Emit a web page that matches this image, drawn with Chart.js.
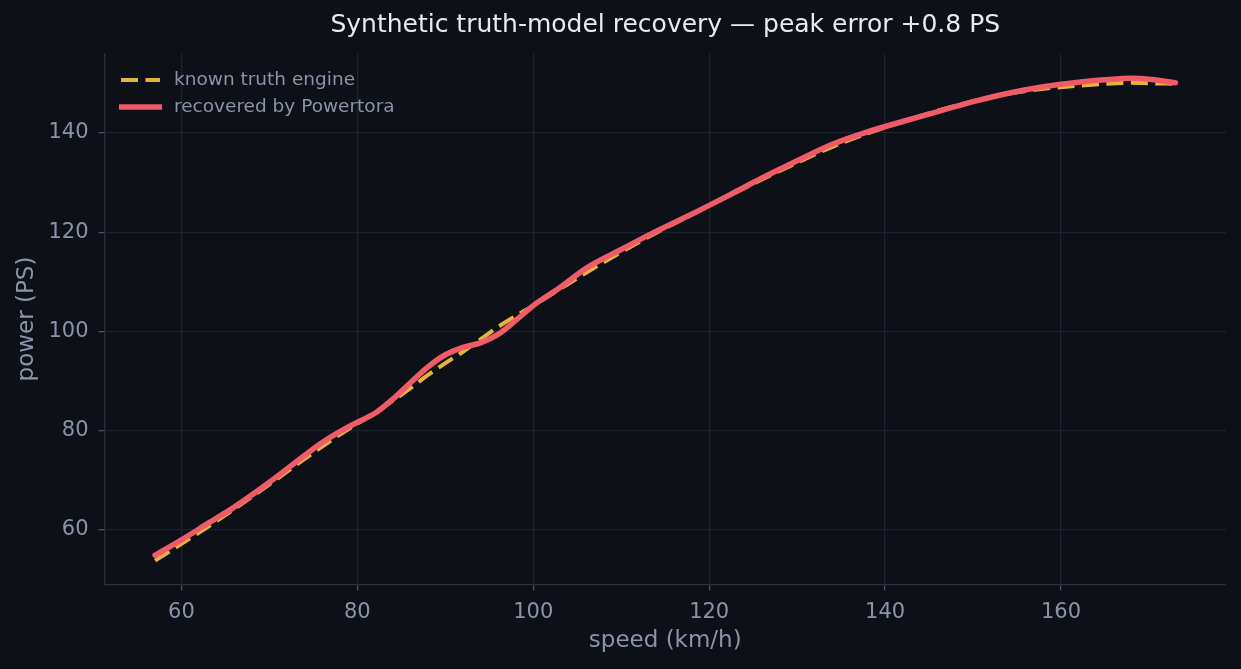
<!DOCTYPE html>
<html><head><meta charset="utf-8">
<script src="https://cdn.jsdelivr.net/npm/chart.js@4/dist/chart.umd.min.js"></script>
<style>html,body{margin:0;padding:0;background:#0e1018;overflow:hidden}#wrap{width:1241px;height:669px}</style>
</head><body><div id="wrap"><canvas id="c" width="1241" height="669"></canvas></div>
<script>
const speed = [57,60,63,66,70,74,76,78,80,82,84,86,88,90,92,94,96,98,100,103,106,110,114,118,122,126,130,134,138,142,146,150,154,158,162,165,168,170,173];
const truthPower = [53.8,57.2,60.6,64.2,69.2,74.3,76.8,79.2,81.4,83.6,86.0,88.5,91.2,93.6,95.9,98.4,100.9,103.1,105.2,108.5,111.8,116.0,119.9,123.5,127.1,130.6,134.0,137.2,139.9,142.3,144.5,146.4,147.9,148.9,149.5,149.9,150.1,150.0,149.9];
const recoveredPower = [54.9,58.0,61.3,64.6,69.6,75.0,77.6,79.8,81.7,83.5,86.3,89.6,92.8,95.3,96.8,97.7,99.4,102.2,105.2,108.8,112.7,116.5,120.2,123.6,127.2,130.9,134.4,137.7,140.2,142.3,144.3,146.3,148.0,149.3,150.2,150.7,151.0,150.8,150.1];
const xTicks = [60,80,100,120,140,160];
const yTicks = [60,80,100,120,140];
const seriesNames = ['known truth engine','recovered by Powertora'];
const titleText = 'Synthetic truth-model recovery — peak error +0.8 PS';

const BG = '#0e1018', GRID = '#1e2230', SPINE = '#2a2f3c', TXT = '#8a93a7';
const GOLD = '#e6b43c', RED = '#ef5b67';
const FONT = 'DejaVu Sans';

const bgPlugin = {
  id: 'bg',
  beforeDraw(chart) {
    const c = chart.ctx; c.save(); c.fillStyle = BG; c.fillRect(0,0,chart.width,chart.height); c.restore();
  }
};
const overlayPlugin = {
  id: 'overlay',
  afterDraw(chart) {
    const c = chart.ctx; c.save();
    const a = chart.chartArea;
    c.fillStyle = '#e8eaf0'; c.font = '25px "' + FONT + '"'; c.textBaseline = 'middle'; c.textAlign = 'center';
    c.fillText(titleText, (a.left + a.right) / 2, 25.5);
    c.lineCap = 'butt';
    c.strokeStyle = GOLD; c.lineWidth = 4; c.setLineDash([17, 7.5]);
    c.beginPath(); c.moveTo(121, 80); c.lineTo(160, 80); c.stroke();
    c.setLineDash([]);
    c.strokeStyle = RED; c.lineWidth = 5.5;
    c.beginPath(); c.moveTo(119, 107); c.lineTo(162, 107); c.stroke();
    c.fillStyle = TXT; c.font = '18.5px "' + FONT + '"'; c.textBaseline = 'middle'; c.textAlign = 'left';
    c.fillText(seriesNames[0], 174, 80.5);
    c.fillText(seriesNames[1], 174, 107.5);
    c.restore();
  }
};

new Chart(document.getElementById('c'), {
  type: 'line',
  data: {
    datasets: [
      { label: seriesNames[1], data: speed.map((s,i)=>({x:s,y:recoveredPower[i]})), borderColor: RED, borderWidth: 5.5, pointRadius: 0, cubicInterpolationMode: 'monotone', fill: false, order: 0, borderCapStyle: 'round', borderJoinStyle: 'round' },
      { label: seriesNames[0], data: speed.map((s,i)=>({x:s,y:truthPower[i]})), borderColor: GOLD, borderWidth: 4, borderDash: [17, 7.5], pointRadius: 0, cubicInterpolationMode: 'monotone', fill: false, order: 1, borderCapStyle: 'butt' }
    ]
  },
  options: {
    responsive: false, animation: false, devicePixelRatio: 1,
    layout: { padding: { left: 0, right: 15, top: 53.5, bottom: 0 } },
    plugins: {
      legend: { display: false }, tooltip: { enabled: false }, title: { display: false }
    },
    scales: {
      x: {
        type: 'linear', min: 51.25, max: 178.76,
        afterFit(s) { s.height = 84.5; },
        afterBuildTicks(s) { s.ticks = xTicks.map(v => ({ value: v })); },
        grid: { color: GRID, lineWidth: 1.3, tickLength: 6, tickColor: '#4a5060', tickWidth: 1.3 },
        border: { color: SPINE, width: 1.3 },
        ticks: { color: TXT, font: { family: FONT, size: 21 }, padding: 9.5, maxRotation: 0, autoSkip: false },
        title: { display: true, text: 'speed (km/h)', color: TXT, font: { family: FONT, size: 23 }, padding: { top: 0, bottom: 14 } }
      },
      y: {
        type: 'linear', min: 49.0, max: 156.0,
        afterFit(s) { s.width = 104.5; },
        afterBuildTicks(s) { s.ticks = yTicks.map(v => ({ value: v })); },
        grid: { color: GRID, lineWidth: 1.3, tickLength: 6, tickColor: '#4a5060', tickWidth: 1.3 },
        border: { color: SPINE, width: 1.3 },
        ticks: { color: TXT, font: { family: FONT, size: 21 }, padding: 10, autoSkip: false },
        title: { display: true, text: 'power (PS)', color: TXT, font: { family: FONT, size: 23 }, padding: { top: 13, bottom: 0 } }
      }
    }
  },
  plugins: [bgPlugin, overlayPlugin]
});
</script></body></html>
